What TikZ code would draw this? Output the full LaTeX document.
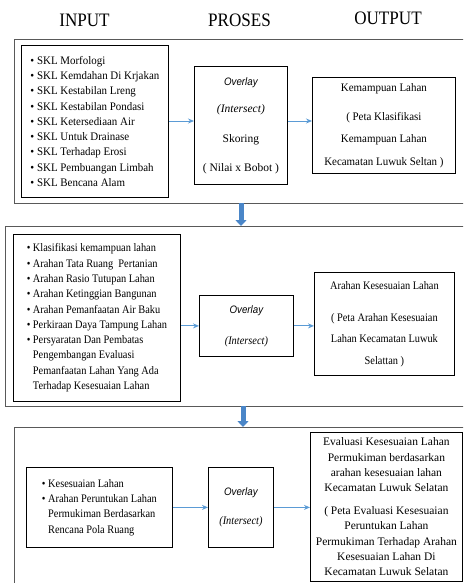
\documentclass[tikz,border=0pt]{standalone}
\usepackage{fontspec}
\setmainfont{Liberation Serif}[FakeStretch=0.9]
\setsansfont{Liberation Sans}[FakeStretch=0.9]
\newfontfamily\widefont{Liberation Serif}[FakeStretch=0.95]
\newfontfamily\widerfont{Liberation Serif}[FakeStretch=1.0]
\usetikzlibrary{arrows.meta}
\definecolor{panelgray}{HTML}{595959}
\definecolor{arrowblue}{HTML}{5B9BD5}
\definecolor{bigblue}{HTML}{4A86C8}
\newcommand{\bul}{\textbullet\ }
\newcommand{\hang}{\hphantom{\textbullet\ }}
\newcommand{\ovl}{{\sffamily\itshape\fontsize{10.8}{15.3}\selectfont Overlay}}
\newcommand{\isect}{{\itshape (Intersect)}}
\begin{document}
\begin{tikzpicture}[x=1pt,y=-1pt,
  panel/.style={draw=panelgray,line width=1.2pt,anchor=north west,inner sep=0pt},
  box/.style={draw=black,line width=0.8pt,anchor=north west,inner sep=0pt,font=\fontsize{11.5}{15.3}\selectfont},
  flow/.style={draw=arrowblue,line width=0.9pt,-{Stealth[length=6pt,width=5pt]}},
  bigflow/.style={draw=bigblue,line width=5pt,-{Triangle[length=6pt,width=11pt]}},
  head/.style={font=\fontsize{19}{22}\selectfont,inner sep=0pt}]
\clip (0,0) rectangle (463,583);
% headers
\node[head] (hin) at (84.5,20) {INPUT};
\node[head] (hpr) at (239.5,20) {PROSES};
\node[head] (hout) at (388,18) {OUTPUT};
% panels
\node[panel,minimum width=456pt,minimum height=164pt] (p1) at (14,39) {};
\node[panel,minimum width=465pt,minimum height=180pt] (p2) at (5,226) {};
\node[panel,minimum width=460pt,minimum height=170pt] (p3) at (14,427) {};
% panel 1
\node[box,minimum width=147pt,minimum height=152pt,align=left,font=\widefont\fontsize{11.5}{15.3}\selectfont] (in1) at (21,45) {%
\bul SKL Morfologi\\
\bul SKL Kemdahan Di Krjakan\\
\bul SKL Kestabilan Lreng\\
\bul SKL Kestabilan Pondasi\\
\bul SKL Ketersediaan Air\\
\bul SKL Untuk Drainase\\
\bul SKL Terhadap Erosi\\
\bul SKL Pembuangan Limbah\\
\bul SKL Bencana Alam};
\node[box,minimum width=93pt,minimum height=118pt,align=center,font=\widerfont\fontsize{11.5}{15.3}\selectfont] (pr1) at (194,66) {%
\ovl\\[11.7pt]
\isect\\[14.7pt]
Skoring\\[13.7pt]
( Nilai x Bobot )};
\node[box,minimum width=143pt,minimum height=96pt,align=center,font=\widefont\fontsize{11.5}{15.3}\selectfont] (out1) at (312,77) {%
Kemampuan Lahan\\[13.7pt]
( Peta Klasifikasi\\[6.7pt]
Kemampuan Lahan\\[7.7pt]
Kecamatan Luwuk Seltan )};
\draw[flow] (in1.east |- 0,121) -- (pr1.west |- 0,121);
\draw[flow] (pr1.east |- 0,121) -- (out1.west |- 0,121);
% panel 2
\node[box,minimum width=167pt,minimum height=167pt,align=left] (in2) at (13,234) {%
\bul Klasifikasi kemampuan lahan\\
\bul Arahan Tata Ruang \ Pertanian\\
\bul Arahan Rasio Tutupan Lahan\\
\bul Arahan Ketinggian Bangunan\\
\bul Arahan Pemanfaatan Air Baku\\
\bul Perkiraan Daya Tampung Lahan\\
\bul Persyaratan Dan Pembatas\\
\hang Pengembangan Evaluasi\\
\hang Pemanfaatan Lahan Yang Ada\\
\hang Terhadap Kesesuaian Lahan};
\node[box,minimum width=94pt,minimum height=61pt,align=center] (pr2) at (199,295) {%
\ovl\\[15.7pt]
\isect};
\node[box,minimum width=140pt,minimum height=103pt,align=center] (out2) at (314,272) {%
Arahan Kesesuaian Lahan\\[16.7pt]
( Peta Arahan Kesesuaian\\[5.7pt]
Lahan Kecamatan Luwuk\\[6.7pt]
Selattan )};
\draw[flow] (in2.east |- pr2.west) -- (pr2.west);
\draw[flow] (pr2.east) -- (pr2.east -| out2.west);
% panel 3
\node[box,minimum width=146pt,minimum height=80pt,align=left] (in3) at (26,467) {%
\bul Kesesuaian Lahan\\
\bul Arahan Peruntukan Lahan\\
\hang Permukiman Berdasarkan\\
\hang Rencana Pola Ruang};
\node[box,minimum width=65pt,minimum height=80pt,align=center] (pr3) at (208,467) {%
\ovl\\[13.7pt]
\isect};
\node[box,minimum width=152pt,minimum height=149pt,align=center,font=\widerfont\fontsize{11.5}{15.3}\selectfont] (out3) at (310,432) {%
Evaluasi Kesesuaian Lahan\\
Permukiman berdasarkan\\
arahan kesesuaian lahan\\
Kecamatan Luwuk Selatan\\[7.7pt]
( Peta Evaluasi Kesesuaian\\
Peruntukan Lahan\\
Permukiman Terhadap Arahan\\
Kesesuaian Lahan Di\\
Kecamatan Luwuk Selatan};
\draw[flow] (in3.east) -- (pr3.west);
\draw[flow] (pr3.east) -- (pr3.east -| out3.west);
% big down arrows
\coordinate (d1) at (241,203);
\coordinate (d2) at (243,406);
\draw[bigflow] (d1) -- (d1 |- p2.north);
\draw[bigflow] (d2) -- (d2 |- p3.north);
\end{tikzpicture}
\end{document}
